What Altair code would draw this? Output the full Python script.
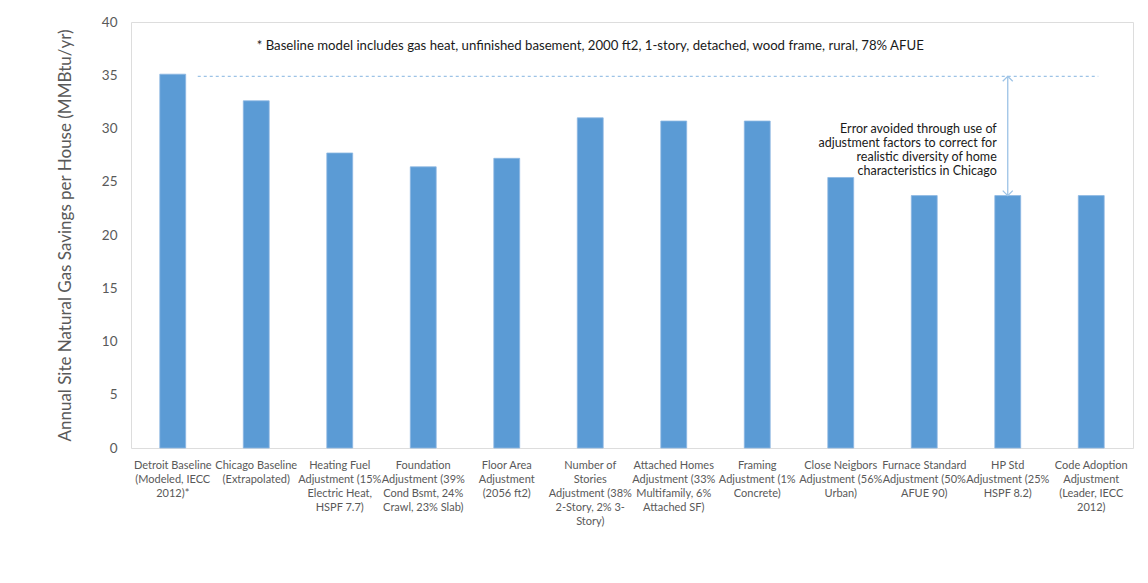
import altair as alt
import pandas as pd

# ---- data ----
label_lines = [
    ["Detroit Baseline", "(Modeled, IECC", "2012)*"],
    ["Chicago Baseline", "(Extrapolated)"],
    ["Heating Fuel", "Adjustment (15%", "Electric Heat,", "HSPF 7.7)"],
    ["Foundation", "Adjustment (39%", "Cond Bsmt, 24%", "Crawl, 23% Slab)"],
    ["Floor Area", "Adjustment", "(2056 ft2)"],
    ["Number of", "Stories", "Adjustment (38%", "2-Story, 2% 3-", "Story)"],
    ["Attached Homes", "Adjustment (33%", "Multifamily, 6%", "Attached SF)"],
    ["Framing", "Adjustment (1%", "Concrete)"],
    ["Close Neigbors", "Adjustment (56%", "Urban)"],
    ["Furnace Standard", "Adjustment (50%", "AFUE 90)"],
    ["HP Std", "Adjustment (25%", "HSPF 8.2)"],
    ["Code Adoption", "Adjustment", "(Leader, IECC", "2012)"],
]
savings = [35.1, 32.6, 27.7, 26.4, 27.2, 31.0, 30.7, 30.7, 25.4, 23.7, 23.7, 23.7]

baseline_level = 34.9
arrow_bottom = 23.7
note_text = "* Baseline model includes gas heat, unfinished basement, 2000 ft2, 1-story, detached, wood frame, rural, 78% AFUE"
note_y = 37.7
annot_lines = ["Error avoided through use of", "adjustment factors to correct for",
               "realistic diversity of home", "characteristics in Chicago"]
annot_y = 30.0
y_title = "Annual Site Natural Gas Savings per House (MMBtu/yr)"

cats = ["\n".join(l) for l in label_lines]
df = pd.DataFrame({"cat": cats, "value": savings})

FONT = "Lato"
GRAY = "#595959"
BAR = "#5B9BD5"
LIGHT = "#9DC3E6"

x_scale = alt.Scale(domain=cats, paddingInner=0.69, paddingOuter=0.345)
x_enc = alt.X(
    "cat:N", sort=cats, title=None, scale=x_scale,
    axis=alt.Axis(labelAngle=0, ticks=False, domain=False, labelPadding=11,
                  labelFontSize=11, labelLineHeight=14, labelColor=GRAY,
                  labelFont=FONT, labelLimit=0, labelExpr="split(datum.label, '\\n')"),
)
y_scale = alt.Scale(domain=[0, 40], nice=False)
y_enc = alt.Y(
    "value:Q", scale=y_scale, title=y_title,
    axis=alt.Axis(values=list(range(0, 45, 5)), ticks=False, domain=False, grid=False,
                  labelFontSize=13.5, labelColor=GRAY, labelFont=FONT, labelPadding=14,
                  titleFontSize=17, titleColor=GRAY, titleFont=FONT, titleFontWeight="normal",
                  titleX=-66, titleBaseline="middle"),
)

def xs():
    return alt.X("cat:N", sort=cats, scale=x_scale)

bars = alt.Chart(df).mark_bar(color=BAR, stroke="#8DB8E2", strokeWidth=0.8).encode(x=x_enc, y=y_enc)

ref_df = pd.DataFrame({"cat": [cats[0]], "end": [cats[-1]], "value": [baseline_level]})
dashed = alt.Chart(ref_df).mark_rule(color=LIGHT, strokeWidth=1.3, strokeDash=[3, 3],
                                     xOffset=25, x2Offset=7).encode(
    x=xs(), x2="end:N", y=alt.Y("value:Q", scale=y_scale))

arr_df = pd.DataFrame({"cat": [cats[10]], "value": [baseline_level], "bottom": [arrow_bottom]})
arrow_line = alt.Chart(arr_df).mark_rule(color=LIGHT, strokeWidth=1.3).encode(
    x=xs(), y=alt.Y("value:Q", scale=y_scale), y2="bottom:Q")
head_up = alt.Chart(arr_df).mark_point(shape="M-1,1L0,0L1,1", size=100, filled=False,
                                       color=LIGHT, strokeWidth=1.3, opacity=1).encode(
    x=xs(), y=alt.Y("value:Q", scale=y_scale))
head_down = alt.Chart(arr_df).mark_point(shape="M-1,-1L0,0L1,-1", size=100, filled=False,
                                         color=LIGHT, strokeWidth=1.3, opacity=1).encode(
    x=xs(), y=alt.Y("bottom:Q", scale=y_scale))

annot_df = pd.DataFrame({"cat": [cats[10]], "value": [annot_y], "txt": ["\n".join(annot_lines)]})
annot = alt.Chart(annot_df).mark_text(align="right", baseline="middle", dx=-11, fontSize=12.5,
                                      font=FONT, color="#1a1a1a", lineBreak="\n", lineHeight=14).encode(
    x=xs(), y=alt.Y("value:Q", scale=y_scale), text="txt:N")

note_df = pd.DataFrame({"cat": [cats[5]], "value": [note_y], "txt": [note_text]})
note = alt.Chart(note_df).mark_text(align="center", baseline="middle", fontSize=13.2,
                                    font=FONT, color="#1a1a1a").encode(
    x=xs(), y=alt.Y("value:Q", scale=y_scale), text="txt:N")

chart = alt.layer(bars, dashed, arrow_line, head_up, head_down, annot, note).properties(
    width=1002, height=426,
    autosize=alt.AutoSizeParams(type="none"),
    padding={"left": 131, "top": 22, "right": 15, "bottom": 135},
).configure_view(stroke=LIGHT, strokeWidth=1.3).configure(background="white")

chart.save("out.html", embed_options={"renderer": "svg", "actions": False})
